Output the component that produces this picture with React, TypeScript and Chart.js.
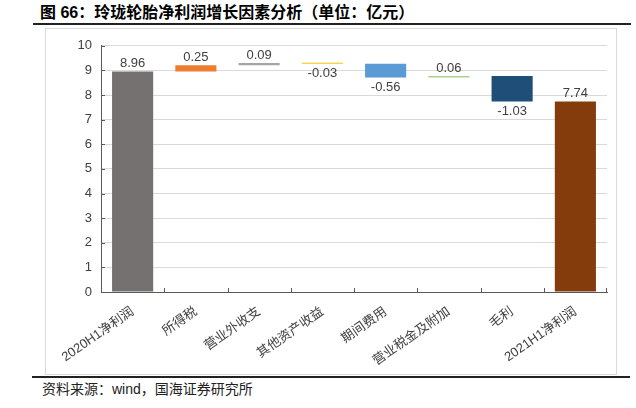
import React, { useEffect, useRef } from "react";
import { Chart, registerables } from "chart.js";

Chart.register(...registerables);

const categories = [
  "2020H1净利润",
  "所得税",
  "营业外收支",
  "其他资产收益",
  "期间费用",
  "营业税金及附加",
  "毛利",
  "2021H1净利润",
];
const changes = [8.96, 0.25, 0.09, -0.03, -0.56, 0.06, -1.03, 7.74];
const isTotal = [true, false, false, false, false, false, false, true];
const barColors = ["#767171", "#ED7D31", "#A5A5A5", "#FFC000", "#5B9BD5", "#A9D18E", "#1F4E79", "#843C0C"];
const yTicks = [0, 1, 2, 3, 4, 5, 6, 7, 8, 9, 10];

function buildRanges(): [number, number][] {
  const out: [number, number][] = [];
  let run = 0;
  changes.forEach((v, i) => {
    if (isTotal[i]) {
      out.push([0, v]);
      run = v;
    } else {
      out.push([run, run + v]);
      run = run + v;
    }
  });
  return out;
}

export default function App() {
  const ref = useRef<HTMLCanvasElement | null>(null);
  useEffect(() => {
    if (!ref.current) return;
    const ranges = buildRanges();
    const font = "'Liberation Sans', 'Noto Sans CJK SC', sans-serif";
    const overlay = {
      id: "overlay",
      afterDraw(chart: any) {
        const ctx = chart.ctx;
        const area = chart.chartArea;
        const ys = chart.scales.y;
        const xs = chart.scales.x;
        ctx.save();
        ctx.strokeStyle = "#595959";
        ctx.lineWidth = 1;
        yTicks.forEach((t) => {
          const py = Math.round(ys.getPixelForValue(t)) + 0.5;
          ctx.beginPath();
          ctx.moveTo(area.left, py);
          ctx.lineTo(area.left + 4, py);
          ctx.stroke();
        });
        const step = xs.getPixelForValue(1) - xs.getPixelForValue(0);
        for (let i = 0; i <= categories.length; i++) {
          const px =
            i < categories.length
              ? Math.round(xs.getPixelForValue(i) - step / 2) + 0.5
              : Math.round(area.right) - 0.5;
          ctx.beginPath();
          ctx.moveTo(px, area.bottom);
          ctx.lineTo(px, area.bottom - 4);
          ctx.stroke();
        }
        const meta = chart.getDatasetMeta(0);
        ctx.fillStyle = "#404040";
        ctx.font = "13px " + font;
        ctx.textAlign = "center";
        ctx.textBaseline = "middle";
        meta.data.forEach((bar: any, i: number) => {
          const v = changes[i];
          const r = ranges[i];
          const top = ys.getPixelForValue(Math.max(r[0], r[1]));
          const bot = ys.getPixelForValue(Math.min(r[0], r[1]));
          const txt = v.toFixed(2);
          if (v >= 0) ctx.fillText(txt, bar.x, top - 8);
          else ctx.fillText(txt, bar.x, bot + 10);
        });
        ctx.restore();
      },
    };
    const chart = new Chart(ref.current, {
      type: "bar",
      data: {
        labels: categories,
        datasets: [
          {
            data: ranges as any,
            backgroundColor: barColors,
            borderSkipped: false,
            barPercentage: 0.65,
            categoryPercentage: 1,
            minBarLength: 1,
          },
        ],
      },
      options: {
        animation: false,
        responsive: false,
        maintainAspectRatio: false,
        layout: { padding: { top: 13, right: 9, left: 0, bottom: 0 } },
        plugins: { legend: { display: false }, tooltip: { enabled: false } },
        scales: {
          x: {
            grid: { display: false, drawTicks: false },
            border: { display: true, color: "#595959", width: 1 },
            ticks: {
              color: "#404040",
              font: { size: 13, family: font },
              minRotation: 35,
              maxRotation: 35,
              padding: 12,
              autoSkip: false,
            },
            afterFit(scale: any) {
              scale.height = 82;
            },
          },
          y: {
            min: 0,
            max: 10,
            ticks: {
              stepSize: 1,
              color: "#404040",
              font: { size: 13, family: font },
              padding: 9,
            },
            grid: { color: "#D9D9D9", drawTicks: false },
            border: { display: true, color: "#595959", width: 1 },
            afterFit(scale: any) {
              scale.width = 55;
            },
          },
        },
      },
      plugins: [overlay],
    });
    return () => chart.destroy();
  }, []);

  return (
    <div style={{ position: "absolute", left: 0, top: 0, width: 636, height: 408, background: "#fff", fontFamily: "'Liberation Sans', 'Noto Sans CJK SC', sans-serif" }}>
      <div style={{ position: "absolute", left: 40, top: 3, fontSize: 16, fontWeight: "bold", color: "#000", whiteSpace: "nowrap", lineHeight: "20px" }}>
        图 66：玲珑轮胎净利润增长因素分析（单位：亿元）
      </div>
      <div style={{ position: "absolute", left: 33, top: 23, width: 598, height: 2, background: "#222" }} />
      <div style={{ position: "absolute", left: 45, top: 28, width: 570, height: 345, border: "1px solid #D9D9D9" }} />
      <canvas ref={ref} width={570} height={345} style={{ position: "absolute", left: 46, top: 29, width: 570, height: 345 }} />
      <div style={{ position: "absolute", left: 32, top: 376, width: 598, height: 2, background: "#222" }} />
      <div style={{ position: "absolute", left: 42, top: 380, fontSize: 14, color: "#222", whiteSpace: "nowrap", lineHeight: "18px" }}>
        资料来源：wind，国海证券研究所
      </div>
    </div>
  );
}
